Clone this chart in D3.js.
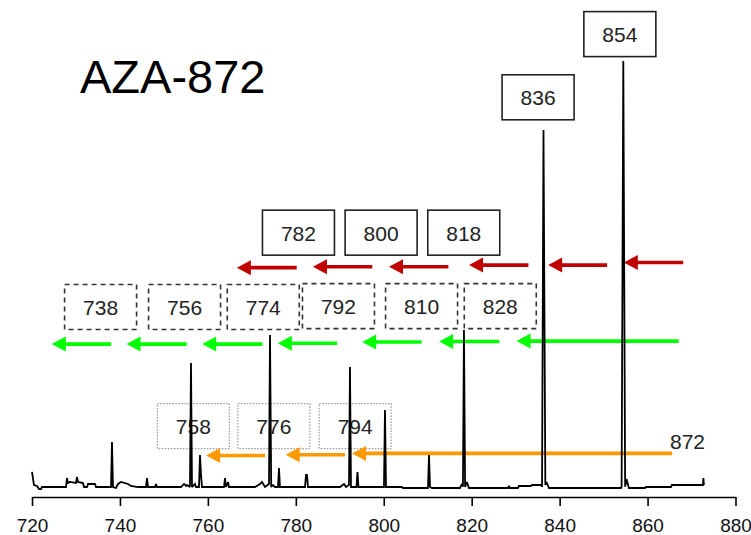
<!DOCTYPE html>
<html>
<head>
<meta charset="utf-8">
<script src="https://cdn.jsdelivr.net/npm/d3@7"></script>
<style>
  html, body { margin: 0; padding: 0; background: #fff; }
  svg { display: block; }
  text { font-family: "Liberation Sans", Arial, sans-serif; }
</style>
</head>
<body>
<svg id="chart" width="751" height="535"></svg>
<script>
// ---- data ----
const title = "AZA-872";
const tickValues = [720, 740, 760, 780, 800, 820, 840, 860, 880];

// spectrum profile (m/z, relative intensity %)
const specMz = [720.0, 720.45, 721.14, 721.59, 722.05, 722.27, 727.73, 727.96, 728.19, 728.64, 730.01, 730.23, 730.46, 731.6, 731.83, 732.51, 732.74, 734.33, 734.56, 737.97, 738.19, 738.42, 739.1, 739.56, 740.24, 741.83, 742.52, 744.11, 745.93, 746.15, 746.38, 747.97, 748.2, 748.43, 753.89, 754.57, 755.02, 755.25, 755.93, 756.16, 756.39, 757.07, 757.3, 757.98, 758.21, 758.44, 758.66, 759.35, 763.67, 763.89, 764.12, 764.58, 764.8, 770.72, 771.85, 772.31, 772.99, 773.9, 774.13, 774.4, 774.81, 775.26, 775.95, 776.17, 776.4, 776.86, 782.09, 782.32, 782.54, 782.77, 790.05, 790.96, 791.41, 792.09, 792.32, 792.55, 793.0, 793.8, 794.02, 794.25, 800.05, 800.28, 800.51, 804.15, 804.38, 810.06, 810.29, 810.52, 810.97, 817.33, 817.79, 818.01, 818.24, 818.5, 818.92, 819.38, 828.25, 828.47, 828.7, 830.52, 830.75, 833.48, 833.71, 835.76, 836.0, 836.33, 836.75, 837.0, 837.58, 853.95, 854.1, 854.48, 854.9, 855.2, 855.76, 859.4, 859.63, 865.32, 865.54, 872.59, 872.7, 872.82];
const specInt = [3.75, 0.7, 0.47, -0.23, -0.23, 0.23, 0.23, 2.34, 1.17, 1.41, 1.17, 2.58, 1.41, 1.17, 0.23, 0.23, 0.94, 0.94, 0.23, 0.23, 10.77, 0.23, 0.0, 0.94, 1.41, 0.94, 0.47, 0.23, 0.23, 2.34, 0.23, 0.23, 0.94, 0.23, 0.23, 0.94, 0.47, 0.7, 0.23, 29.27, 0.23, 0.94, 0.23, 0.23, 7.73, 3.04, 0.23, 0.23, 0.23, 2.34, 0.23, 1.41, 0.23, 0.23, 0.94, 1.41, 0.23, 0.94, 35.83, 0.23, 0.7, 0.23, 0.23, 4.68, 0.23, 0.23, 0.23, 3.04, 3.04, 0.23, 0.23, 0.94, 0.23, 0.7, 28.34, 0.23, 0.23, 0.23, 3.75, 0.23, 0.23, 18.27, 0.23, 0.23, 0.0, 0.0, 7.73, 0.23, 0.0, 0.0, 0.94, 0.3, 37.0, 0.23, 1.41, 0.0, 0.0, 0.47, 0.0, 0.0, 0.47, 0.47, 0.7, 0.7, 0.3, 83.84, 0.7, 1.41, 0.0, 0.0, 0.3, 100.0, 0.3, 2.1, 0.0, 0.0, 0.23, 0.23, 0.7, 0.7, 2.34, 0.7];

// label boxes: text, centre m/z, centre level (intensity units), style
const labelText  = ["854", "836", "782", "800", "818", "738", "756", "774", "792", "810", "828", "758", "776", "794"];
const labelMz    = [853.7, 835.1, 780.6, 799.4, 818.2, 735.6, 754.7, 772.6, 789.7, 808.6, 826.5, 756.7, 775.0, 793.5];
const labelLevel = [106.3, 91.5, 59.8, 59.8, 59.8, 42.4, 42.4, 42.4, 42.6, 42.6, 42.6, 14.5, 14.5, 14.5];
const labelStyle = ["solid", "solid", "solid", "solid", "solid", "dashed", "dashed", "dashed", "dashed", "dashed", "dashed", "dotted", "dotted", "dotted"];

// arrows: from (tail m/z) -> to (tip m/z), level, series
const arrowFrom  = [868.1, 850.8, 832.9, 814.7, 797.4, 780.2, 867.1, 826.3, 808.6, 789.4, 772.4, 755.2, 738.0, 865.6, 791.2, 773.0];
const arrowTo    = [854.6, 837.4, 819.4, 801.2, 783.9, 766.6, 830.2, 812.6, 795.1, 775.9, 758.7, 741.5, 724.5, 792.8, 777.7, 759.6];
const arrowLevel = [52.8, 52.2, 52.2, 51.8, 51.8, 51.6, 34.4, 34.3, 34.2, 33.9, 33.7, 33.7, 33.7, 8.1, 7.8, 7.6];
const arrowSeries = ["red", "red", "red", "red", "red", "red", "green", "green", "green", "green", "green", "green", "green", "orange", "orange", "orange"];

const precursorLabel = "872";
const precursorMz = 865.1;
const precursorLevel = 9.1;

// ---- styles ----
const colors = { red: "#c00000", green: "#00ff00", orange: "#ff9900" };
const boxW = 72, boxH = 45;

// ---- scales ----
const svg = d3.select("#chart");
const x = d3.scaleLinear().domain([720, 880]).range([32, 735.5]);
const y = d3.scaleLinear().domain([0, 100]).range([488, 61]);

// title
svg.append("text")
  .attr("x", 80).attr("y", 93)
  .attr("font-size", 47)
  .attr("fill", "#000")
  .text(title);

// label boxes
const labels = labelText.map((t, i) => ({ t, mz: labelMz[i], lv: labelLevel[i], st: labelStyle[i] }));
const lg = svg.append("g");
labels.forEach(d => {
  const cx = x(d.mz), cy = y(d.lv);
  const r = lg.append("rect")
    .attr("x", cx - boxW / 2).attr("y", cy - boxH / 2)
    .attr("width", boxW).attr("height", boxH)
    .attr("fill", "none");
  if (d.st === "solid") {
    r.attr("stroke", "#222").attr("stroke-width", 1.6);
  } else if (d.st === "dashed") {
    r.attr("stroke", "#333").attr("stroke-width", 1.6).attr("stroke-dasharray", "5,4");
  } else {
    r.attr("stroke", "#999").attr("stroke-width", 1.2).attr("stroke-dasharray", "1.5,1.5");
  }
  lg.append("text")
    .attr("x", cx).attr("y", cy + 8)
    .attr("text-anchor", "middle")
    .attr("font-size", 21)
    .attr("fill", "#222")
    .text(d.t);
});

// arrows
const ag = svg.append("g");
arrowFrom.forEach((f, i) => {
  const x0 = x(f), x1 = x(arrowTo[i]), yy = y(arrowLevel[i]);
  const c = colors[arrowSeries[i]];
  const headL = 14, headW = 7.5;
  ag.append("line")
    .attr("x1", x0).attr("x2", x1 + headL - 1)
    .attr("y1", yy).attr("y2", yy)
    .attr("stroke", c).attr("stroke-width", 3.6);
  ag.append("path")
    .attr("d", `M${x1},${yy}L${x1 + headL},${yy - headW}L${x1 + headL},${yy + headW}Z`)
    .attr("fill", c);
});

// precursor label
svg.append("text")
  .attr("x", x(precursorMz)).attr("y", y(precursorLevel))
  .attr("font-size", 21)
  .attr("fill", "#222")
  .text(precursorLabel);

// spectrum
const spec = specMz.map((m, i) => [m, specInt[i]]);
svg.append("path")
  .datum(spec)
  .attr("d", d3.line().x(d => x(d[0])).y(d => y(d[1])))
  .attr("fill", "none")
  .attr("stroke", "#000")
  .attr("stroke-width", 1.8)
  .attr("stroke-linejoin", "miter")
  .attr("stroke-miterlimit", 2);

// axis
const axis = svg.append("g")
  .attr("transform", "translate(0,497)")
  .call(d3.axisBottom(x).tickValues(tickValues).tickSize(9).tickSizeOuter(0).tickPadding(12.5).tickFormat(d3.format("d")));
axis.select(".domain").attr("stroke", "#000").attr("stroke-width", 1.6);
axis.selectAll(".tick line").attr("stroke", "#000").attr("stroke-width", 1.6);
axis.selectAll(".tick text")
  .attr("font-size", 19)
  .attr("font-family", "'Liberation Sans', Arial, sans-serif")
  .attr("fill", "#111");
</script>
</body>
</html>
